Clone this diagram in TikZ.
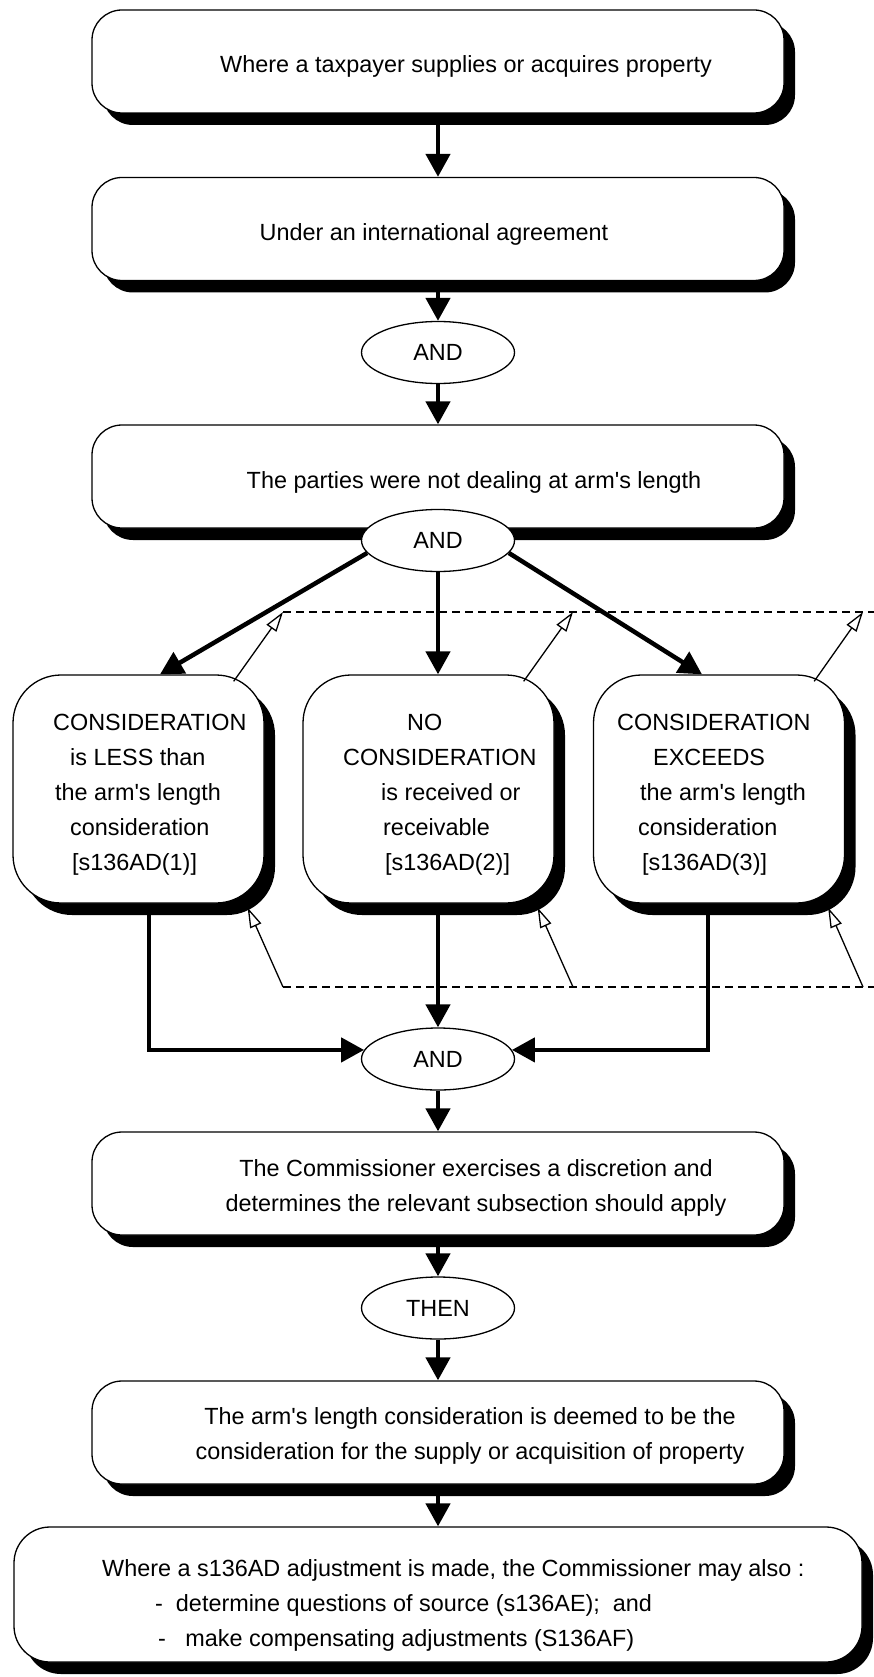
\documentclass[tikz,border=0pt]{standalone}
\usepackage{fontspec}
\setmainfont{Liberation Sans}
\usepackage{tikz}
\usetikzlibrary{arrows.meta,shapes.geometric,shadows}
\newcommand{\boxfont}{\fontsize{23.4}{35}\selectfont}

\begin{document}
\begin{tikzpicture}[x=1pt, y=-1pt,
  bigbox/.style={draw, line width=1.3pt, fill=white, rounded corners=30pt, minimum width=692pt, minimum height=103pt, inner sep=0pt, drop shadow={shadow xshift=11pt, shadow yshift=-12pt, fill=black, opacity=1}},
  casebox/.style={bigbox, rounded corners=48pt, minimum width=251pt, minimum height=228pt},
  txt/.style={inner sep=0pt, align=center, font=\boxfont},
  casetxt/.style={txt, anchor=west, align=left},
  joint/.style={ellipse, draw, line width=1.3pt, fill=white, minimum width=153pt, minimum height=62pt, inner sep=0pt, font=\boxfont},
  flow/.style={line width=4.5pt, -{Triangle[width=24pt,length=23pt]}},
  back/.style={line width=1.3pt, -{Triangle[open,width=12pt,length=20pt]}},
  link/.style={line width=1.3pt, dash pattern=on 8pt off 5pt}]
  \useasboundingbox (0,0) rectangle (874,1677);
  \node[bigbox] (supply) at (438,61.5) {};
  \node[txt] (supplytxt) at (466,66) {Where a taxpayer supplies or acquires property};
  \node[bigbox] (agreement) at (438,229) {};
  \node[txt] (agreementtxt) at (434,234) {Under an international agreement};
  \node[joint] (and1) at (438,352.5) {AND};
  \node[bigbox] (parties) at (438,476.5) {};
  \node[txt] (partiestxt) at (474,482) {The parties were not dealing at arm\textquotesingle s length};
  \node[joint] (and2) at (438,540.5) {AND};
  \node[casebox] (less) at (138.5,789) {};
  \node[casetxt] (lesstxt) at (53,795) {CONSIDERATION\\\hspace*{17pt}is LESS than\\\hspace*{2pt}the arm\textquotesingle s length\\\hspace*{17pt}consideration\\\hspace*{19pt}{[}s136AD(1)]};
  \node[casebox] (none) at (428.5,789) {};
  \node[casetxt] (nonetxt) at (343,795) {\hspace*{64pt}NO\\CONSIDERATION\\\hspace*{38pt}is received or\\\hspace*{40pt}receivable\\\hspace*{42pt}{[}s136AD(2)]};
  \node[casebox] (exceeds) at (719,789) {};
  \node[casetxt] (exceedstxt) at (617,795) {CONSIDERATION\\\hspace*{36pt}EXCEEDS\\\hspace*{23pt}the arm\textquotesingle s length\\\hspace*{21pt}consideration\\\hspace*{25pt}{[}s136AD(3)]};
  \node[joint] (and3) at (438,1059) {AND};
  \node[bigbox] (discretion) at (438,1183.5) {};
  \node[txt] (discretiontxt) at (476,1188) {The Commissioner exercises a discretion and\\determines the relevant subsection should apply};
  \node[joint] (then) at (438,1308) {THEN};
  \node[bigbox] (deemed) at (438,1432.5) {};
  \node[txt] (deemedtxt) at (470,1436) {The arm\textquotesingle s length consideration is deemed to be the\\consideration for the supply or acquisition of property};
  \node[bigbox, rounded corners=36pt, minimum width=848pt, minimum height=135pt] (also) at (438,1594.5) {};
  \node[txt, anchor=west, align=left] (alsotxt) at (102,1605) {Where a s136AD adjustment is made, the Commissioner may also :\\\hspace*{53pt}-\ \ determine questions of source (s136AE);\ \ and\\\hspace*{56pt}-\ \ \ make compensating adjustments (S136AF)};
  \coordinate (up1) at (283,612);
  \coordinate (up2) at (573,612);
  \coordinate (up3) at (863,612);
  \coordinate (upend) at (874,612);
  \coordinate (dn1) at (283,987);
  \coordinate (dn2) at (573,987);
  \coordinate (dn3) at (863,987);
  \coordinate (dnend) at (874,987);
  \draw[link] (up1) -- (upend);
  \draw[link] (dn1) -- (dnend);
  \draw[back] ([xshift=-31pt,yshift=-7pt]less.north east) -- (up1);
  \draw[back] ([xshift=-31pt,yshift=-7pt]none.north east) -- (up2);
  \draw[back] ([xshift=-31pt,yshift=-7pt]exceeds.north east) -- (up3);
  \draw[back] (dn1) -- ([xshift=-17pt,yshift=-4pt]less.south east);
  \draw[back] (dn2) -- ([xshift=-17pt,yshift=-4pt]none.south east);
  \draw[back] (dn3) -- ([xshift=-17pt,yshift=-4pt]exceeds.south east);
  \draw[flow] (supply) -- (agreement);
  \draw[flow] (agreement) -- (and1);
  \draw[flow] (and1) -- (parties);
  \draw[flow] (and2.190) -- ([xshift=21.5pt]less.north);
  \draw[flow] (and2) -- (and2 |- none.north);
  \draw[flow] (and2.-10) -- ([xshift=-17pt]exceeds.north);
  \draw[flow] ([xshift=10.5pt]less.south) |- (and3.173);
  \draw[flow] (and3.north |- none.south) -- (and3);
  \draw[flow] ([xshift=-11pt]exceeds.south) |- (and3.7);
  \draw[flow] (and3) -- (discretion);
  \draw[flow] (discretion) -- (then);
  \draw[flow] (then) -- (deemed);
  \draw[flow] (deemed) -- (also);
\end{tikzpicture}
\end{document}
